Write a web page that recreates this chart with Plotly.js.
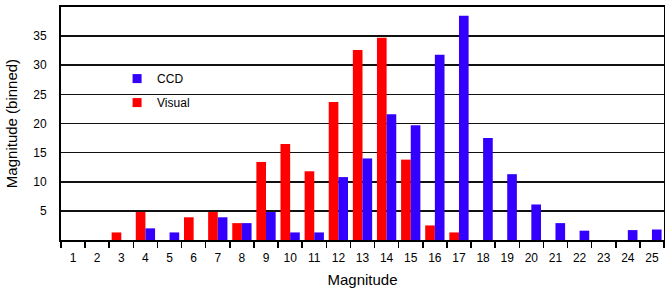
<!DOCTYPE html>
<html>
<head>
<meta charset="utf-8">
<script src="https://cdn.plot.ly/plotly-3.0.1.min.js"></script>
<style>html,body{margin:0;padding:0;background:#fff;}#chart{width:665px;height:288px;}</style>
</head>
<body>
<div id="chart"></div>
<script>
const categories = ["1","2","3","4","5","6","7","8","9","10","11","12","13","14","15","16","17","18","19","20","21","22","23","24","25"];
const visualValues = [0,0,1.3,4.8,0,3.9,4.8,2.9,13.4,16.5,11.8,23.7,32.6,34.7,13.8,2.5,1.3,0,0,0,0,0,0,0,0];
const ccdValues = [0,0,0,2.0,1.3,0,3.9,2.9,4.8,1.3,1.3,10.8,14.0,21.6,19.7,31.8,38.5,17.5,11.3,6.1,2.9,1.6,0,1.7,1.8];
const yTickVals = [5,10,15,20,25,30,35];
const seriesNames = ["Visual","CCD"];
const red = "#ff0000";
const blue = "#3300ff";
const font = "Liberation Sans, Arial, sans-serif";

const traces = [
  {type:"bar", x:categories, y:visualValues, name:seriesNames[0], marker:{color:red}, showlegend:false},
  {type:"bar", x:categories, y:ccdValues, name:seriesNames[1], marker:{color:blue}, showlegend:false},
  {type:"scatter", mode:"markers", x:[null], y:[null], name:seriesNames[1], legendgroup:"c",
   marker:{symbol:"square", size:9, color:blue}},
  {type:"scatter", mode:"markers", x:[null], y:[null], name:seriesNames[0], legendgroup:"v",
   marker:{symbol:"square", size:9, color:red}}
];

const layout = {
  width:665, height:288,
  margin:{l:61, r:1, t:7, b:48},
  paper_bgcolor:"#fff", plot_bgcolor:"#fff",
  font:{family:font, size:12, color:"#000"},
  barmode:"group", bargap:0.2, bargroupgap:0,
  showlegend:true,
  legend:{x:0.093, y:0.755, xanchor:"left", yanchor:"top", traceorder:"grouped",
          tracegroupgap:5, bgcolor:"rgba(0,0,0,0)", font:{family:font, size:12, color:"#000"}},
  xaxis:{type:"category", categoryorder:"array", categoryarray:categories,
         tickson:"boundaries", ticks:"outside", ticklen:6, tickwidth:1.5, tickcolor:"#000",
         ticklabelstandoff:6,
         showline:true, linecolor:"#000", linewidth:2, mirror:true, showgrid:false,
         tickfont:{family:font, size:12, color:"#000"},
         title:{text:"Magnitude", font:{family:font, size:15, color:"#000"}, standoff:12}},
  yaxis:{range:[0,40], tickvals:yTickVals, ticktext:yTickVals.map(String), ticks:"",
         ticklabelstandoff:10, showline:true, linecolor:"#000", linewidth:2, mirror:true,
         showgrid:true, gridcolor:"#111", gridwidth:1.6, zeroline:false,
         tickfont:{family:font, size:12, color:"#000"},
         title:{text:"Magnitude (binned)", font:{family:font, size:15, color:"#000"}, standoff:12}}
};

Plotly.newPlot("chart", traces, layout, {displayModeBar:false, staticPlot:true});
</script>
</body>
</html>
